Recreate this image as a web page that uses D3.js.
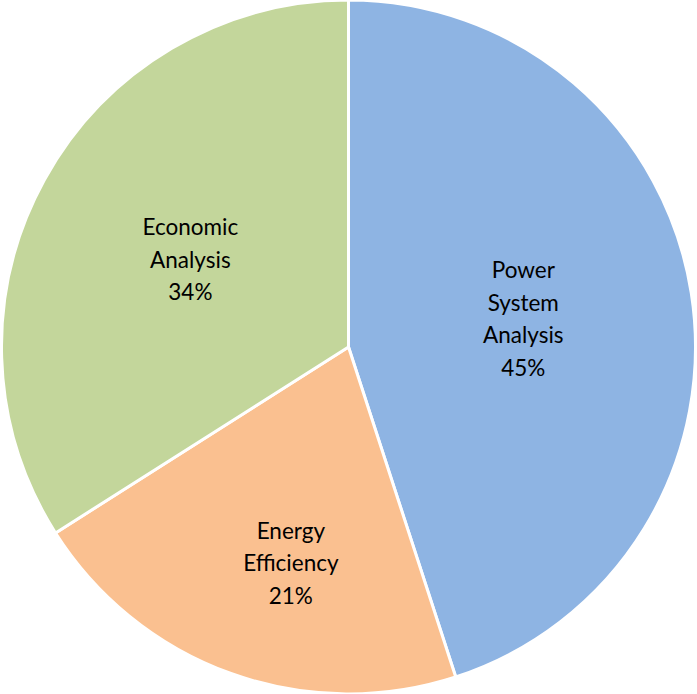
<!DOCTYPE html>
<html>
<head>
<meta charset="utf-8">
<script src="https://cdn.jsdelivr.net/npm/d3@7"></script>
<style>
  html, body { margin: 0; padding: 0; background: #fff; }
  svg { display: block; }
</style>
</head>
<body>
<div id="chart"></div>
<script>
// chart data
var categories = ['Power System Analysis', 'Energy Efficiency', 'Economic Analysis'];
var labelLines = [['Power', 'System', 'Analysis'], ['Energy', 'Efficiency'], ['Economic', 'Analysis']];
var values = [45, 21, 34];
var colors = ['#8EB4E3', '#FAC090', '#C3D69B'];

var width = 697, height = 694;
var cx = 348.5, cy = 347, radius = 347;
// "best fit" label placement: distance as a share of the radius, and a small angle nudge (radians)
var labelDist = [0.51, 0.645, 0.52];
var labelNudge = [0, -0.085, 0];

var svg = d3.select('#chart').append('svg')
    .attr('width', width)
    .attr('height', height);

var g = svg.append('g').attr('transform', 'translate(' + cx + ',' + cy + ')');

var pie = d3.pie().sort(null).value(function(d) { return d; });
var arcs = pie(values);

var arc = d3.arc().innerRadius(0).outerRadius(radius);

g.selectAll('path')
    .data(arcs)
    .enter()
    .append('path')
    .attr('d', arc)
    .attr('fill', function(d, i) { return colors[i]; })
    .attr('stroke', '#fff')
    .attr('stroke-width', 3)
    .attr('stroke-linejoin', 'round');

var lineH = 32.5;
var labels = g.selectAll('text.lbl')
    .data(arcs)
    .enter()
    .append('text')
    .attr('class', 'lbl')
    .attr('text-anchor', 'middle')
    .attr('font-family', 'Lato, "Open Sans", sans-serif')
    .attr('font-size', 22.5)
    .attr('fill', '#000')
    .attr('transform', function(d, i) {
        var a = (d.startAngle + d.endAngle) / 2 + labelNudge[i];
        var r = radius * labelDist[i];
        return 'translate(' + (r * Math.sin(a)) + ',' + (-r * Math.cos(a)) + ')';
    });

labels.each(function(d, i) {
    var lines = labelLines[i].concat([values[i] + '%']);
    var t = d3.select(this);
    var y0 = -(lines.length - 1) * lineH / 2 + 7.8;
    lines.forEach(function(s, k) {
        t.append('tspan')
            .attr('x', 0)
            .attr('y', y0 + k * lineH)
            .text(s);
    });
});
</script>
</body>
</html>
